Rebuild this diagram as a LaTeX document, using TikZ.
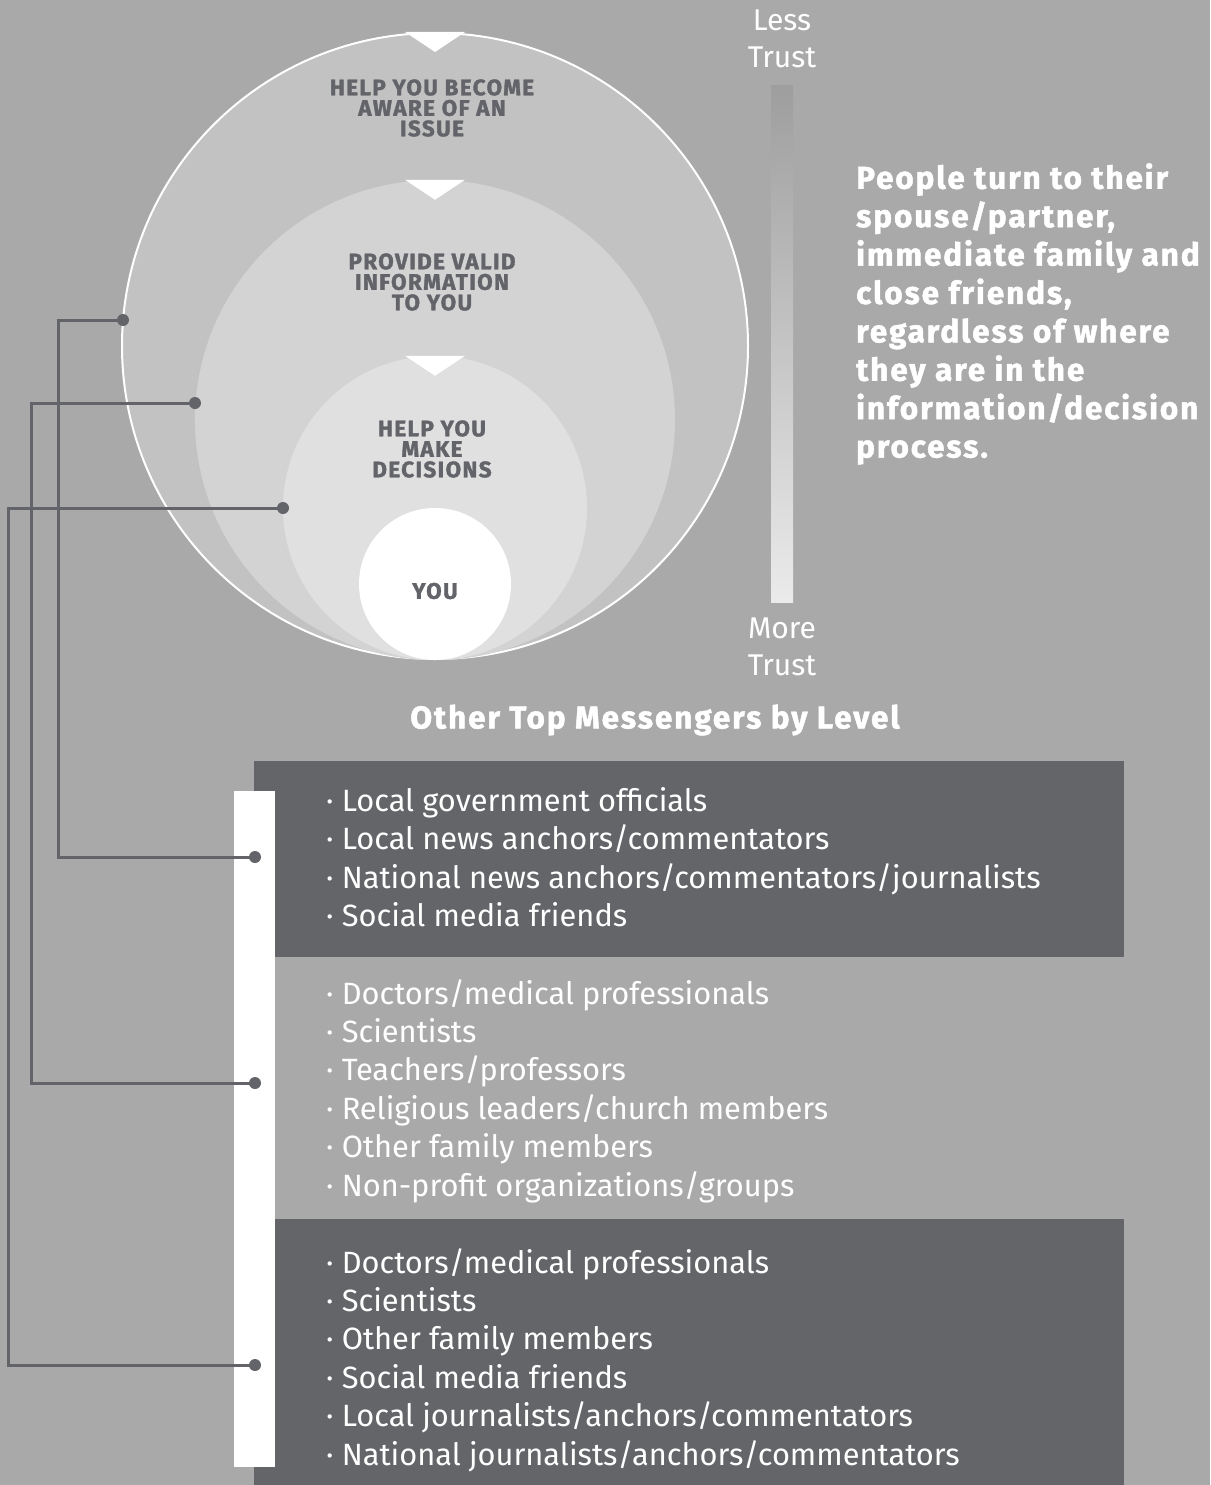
\documentclass[tikz,border=0pt]{standalone}
\usepackage{fontspec}
\setmainfont{Fira Sans}
\newfontfamily\blackfont{Fira Sans}[BoldFeatures = {FakeBold = 1.5},
	LetterSpace = 6]
\definecolor{bggray}{RGB}{169,169,169}
\definecolor{ringone}{RGB}{194,194,194}
\definecolor{ringtwo}{RGB}{211,211,211}
\definecolor{ringthree}{RGB}{224,224,224}
\definecolor{boxdark}{RGB}{100,101,105}
\definecolor{labelgray}{RGB}{99,100,105}
\begin{document}
\begin{tikzpicture}[x=1pt, y=-1pt,
	ring/.style = {circle, inner sep = 0},
	ringlabel/.style = {align = center, text = labelgray, font =
		\fontsize{22.5}{20.5}\blackfont\bfseries},
	trustlabel/.style = {align = center, text = white, font =
		\fontsize{30}{37}\selectfont},
	msglist/.style = {anchor = north west, align = left, inner sep = 0,
		text = white, font = \fontsize{30.8}{38.4}\selectfont},
	link/.style = {draw = labelgray, line width = 3pt},
	notch/.style = {fill = white}]
% background
\fill [bggray] (0,0) rectangle (1210,1485);
% nested circles
\node [ring, minimum size = 626pt, fill = ringone, draw = white, line
	width = 2pt] (aware) at (435,346) {};
\node [ring, minimum size = 480pt, fill = ringtwo] (valid) at (435,420) {};
\node [ring, minimum size = 304pt, fill = ringthree] (decide) at (435,508) {};
\node [ring, minimum size = 152pt, fill = white] (you) at (435,584) {};
\foreach \c in {aware, valid, decide}
	\fill [notch] ([xshift = -30pt]\c.north) -- ([xshift = 30pt]\c.north)
		-- ([yshift = -20pt]\c.north) -- cycle;
\node [ringlabel] (awaretext) at (432,108)
	{HELP YOU BECOME\\AWARE OF AN\\ISSUE};
\node [ringlabel] (validtext) at (432,282)
	{PROVIDE VALID\\INFORMATION\\TO YOU};
\node [ringlabel] (decidetext) at (432,449)
	{HELP YOU\\MAKE\\DECISIONS};
\node [ringlabel] (youtext) at (435,591) {YOU};
% trust scale
\node [trustlabel] (less) at (782,39) {Less\\Trust};
\shade [top color = black!38, bottom color = black!8] (771,86)
	rectangle (793,602);
\node [trustlabel] (more) at (782,647) {More\\Trust};
\node [anchor = north west, align = left, inner sep = 0, text = white,
	font = \fontsize{31.5}{38.4}\blackfont\bfseries] (note) at (856,163)
	{People turn to their\\spouse/partner,\\immediate family and\\close
	friends,\\regardless of where\\they are in the\\information/decision\\process.};
% messengers
\node [text = white, font = \fontsize{31.5}{36}\blackfont\bfseries]
	(msgtitle) at (655,720) {Other Top Messengers by Level};
\fill [boxdark] (254,761) rectangle (1124,957);
\fill [boxdark] (254,1219) rectangle (1124,1485);
\fill [white] (234,791) rectangle (275,1467);
\node [msglist] (levelone) at (326,787)
	{· Local government officials\\· Local news anchors/commentators\\·
	National news anchors/commentators/journalists\\· Social media friends};
\node [msglist] (leveltwo) at (326,979)
	{· Doctors/medical professionals\\· Scientists\\·
	Teachers/professors\\· Religious leaders/church members\\· Other
	family members\\· Non-profit organizations/groups};
\node [msglist] (levelthree) at (326,1248)
	{· Doctors/medical professionals\\· Scientists\\· Other family
	members\\· Social media friends\\·
	Local journalists/anchors/commentators\\·
	National journalists/anchors/commentators};
% connectors
\coordinate (awaredot) at (123,320);
\coordinate (validdot) at (195,403);
\coordinate (decidedot) at (283,508);
\coordinate (onedot) at (255,857);
\coordinate (twodot) at (255,1083);
\coordinate (threedot) at (255,1365);
\draw [link] (awaredot) -- ++(-65,0) |- (onedot);
\draw [link] (validdot) -- ++(-164,0) |- (twodot);
\draw [link] (decidedot) -- ++(-275,0) |- (threedot);
\foreach \d in {awaredot, validdot, decidedot, onedot, twodot, threedot}
	\fill [labelgray] (\d) circle (6pt);
\end{tikzpicture}
\end{document}
